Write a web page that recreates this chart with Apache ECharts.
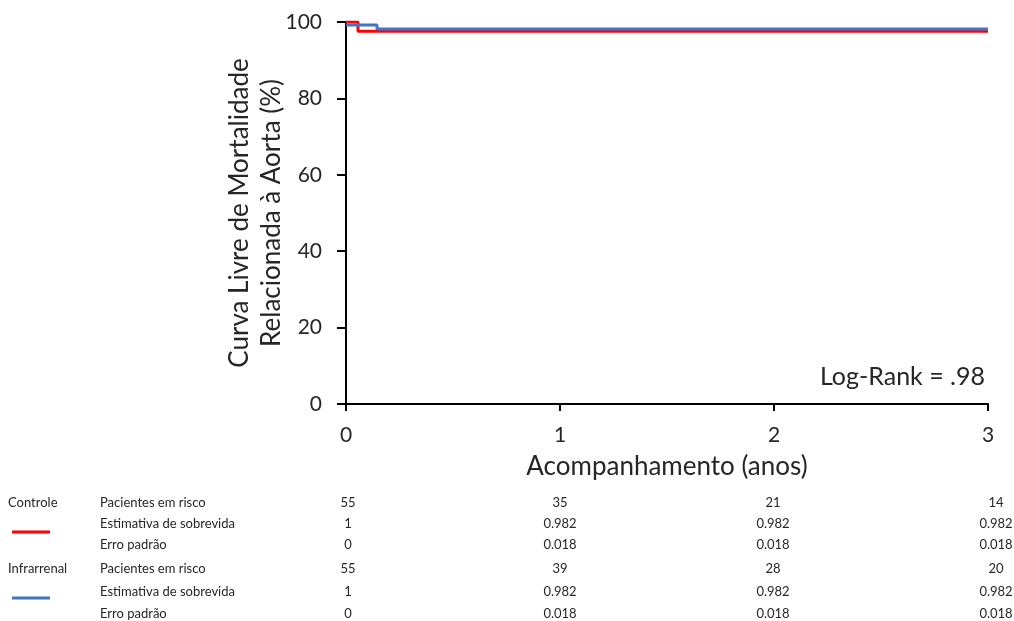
<!DOCTYPE html>
<html>
<head>
<meta charset="utf-8">
<script src="https://cdn.jsdelivr.net/npm/echarts@6/dist/echarts.min.js"></script>
<style>
  html, body { margin: 0; padding: 0; background: #fff; }
  #chart { width: 1014px; height: 621px; }
</style>
</head>
<body>
<div id="chart"></div>
<script>
// curvas (anos, %)
var controle = [[0, 100], [0.056, 97.6], [3, 97.6]];
var infrarrenal = [[0, 99.2], [0.145, 98.2], [3, 98.2]];

// tabela de risco
var grupos = ['Controle', 'Infrarrenal'];
var linhas = ['Pacientes em risco', 'Estimativa de sobrevida', 'Erro padrão'];
var controleTab = [
  ['55', '35', '21', '14'],
  ['1', '0.982', '0.982', '0.982'],
  ['0', '0.018', '0.018', '0.018']
];
var infraTab = [
  ['55', '39', '28', '20'],
  ['1', '0.982', '0.982', '0.982'],
  ['0', '0.018', '0.018', '0.018']
];

var font = 'Lato, "Noto Sans", sans-serif';
var chart = echarts.init(document.getElementById('chart'));

var colX = [348, 560, 773, 996];
var rowY = [503, 524, 545, 569, 592, 614];
var legY = [532, 598];
var cores = ['#ff0000', '#4472c4'];
var tabelas = [controleTab, infraTab];
var tabFont = '13px ' + font;

var graphic = [];
grupos.forEach(function (g, gi) {
  graphic.push({
    type: 'text', x: 8, y: rowY[gi * 3],
    style: { text: g, font: tabFont, fill: '#262626', verticalAlign: 'middle' }
  });
  graphic.push({
    type: 'line', shape: { x1: 12, y1: legY[gi], x2: 50, y2: legY[gi] },
    style: { stroke: cores[gi], lineWidth: 3 }
  });
  linhas.forEach(function (l, li) {
    var y = rowY[gi * 3 + li];
    graphic.push({
      type: 'text', x: 100, y: y, style: { text: l, font: tabFont, fill: '#262626', verticalAlign: 'middle' }
    });
    tabelas[gi][li].forEach(function (v, ci) {
      graphic.push({
        type: 'text', x: colX[ci], y: y,
        style: { text: v, font: tabFont, fill: '#262626', align: 'center', verticalAlign: 'middle' }
      });
    });
  });
});
graphic.push({
  type: 'text', x: 985, y: 377,
  style: { text: 'Log-Rank = .98', font: '25px ' + font, fill: '#262626', align: 'right', verticalAlign: 'middle' }
});

chart.setOption({
  animation: false,
  backgroundColor: '#fff',
  grid: { left: 346, right: 26, top: 22, bottom: 217, containLabel: false },
  xAxis: {
    type: 'value', min: 0, max: 3, interval: 1,
    name: 'Acompanhamento (anos)', nameLocation: 'middle', nameGap: 50,
    nameTextStyle: { fontFamily: font, fontSize: 26, color: '#262626' },
    axisLine: { lineStyle: { color: '#000', width: 2 } },
    axisTick: { show: true, length: 7, lineStyle: { color: '#000', width: 2 } },
    axisLabel: { fontFamily: font, fontSize: 21, color: '#262626', margin: 21 },
    splitLine: { show: false }
  },
  yAxis: {
    type: 'value', min: 0, max: 100, interval: 20,
    name: 'Curva Livre de Mortalidade\nRelacionada à Aorta (%)', nameLocation: 'middle', nameGap: 58,
    nameRotate: 90, nameMoveOverlap: false,
    nameTextStyle: { fontFamily: font, fontSize: 26, color: '#262626', lineHeight: 32 },
    axisLine: { show: true, lineStyle: { color: '#000', width: 2 } },
    axisTick: { show: true, length: 9, lineStyle: { color: '#000', width: 2 } },
    axisLabel: { fontFamily: font, fontSize: 21, color: '#262626', margin: 24 },
    splitLine: { show: false }
  },
  series: [
    { name: 'Controle', type: 'line', step: 'end', data: controle, showSymbol: false,
      lineStyle: { color: cores[0], width: 3 } },
    { name: 'Infrarrenal', type: 'line', step: 'end', data: infrarrenal, showSymbol: false,
      lineStyle: { color: cores[1], width: 3 } }
  ],
  graphic: graphic
});
</script>
</body>
</html>
